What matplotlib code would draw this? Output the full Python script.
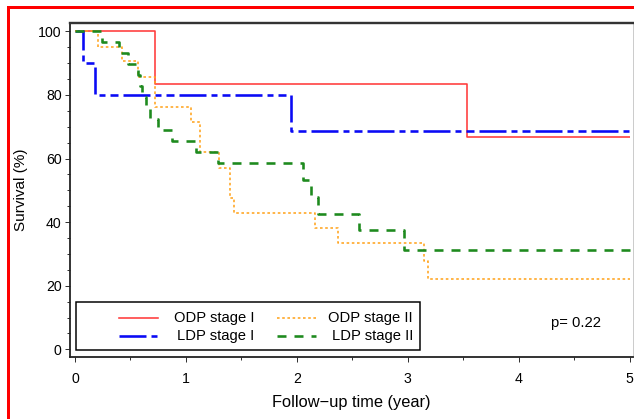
import matplotlib
matplotlib.use("Agg")
import matplotlib.pyplot as plt
from matplotlib.lines import Line2D
from matplotlib.patches import Rectangle
from matplotlib.ticker import MultipleLocator

plt.rcParams['font.family'] = ['Liberation Sans', 'DejaVu Sans']
plt.rcParams['lines.scale_dashes'] = False

# ---- data ----
odp1_t = [0, 0.72, 3.53, 5.0]
odp1_s = [100, 83.3, 66.7, 66.7]

ldp1_t = [0, 0.07, 0.18, 1.945, 5.0]
ldp1_s = [100, 90.0, 80.0, 68.6, 68.6]

odp2_t = [0, 0.21, 0.42, 0.57, 0.72, 1.05, 1.125, 1.30, 1.40, 1.43, 2.16, 2.37, 3.145, 3.18, 5.0]
odp2_s = [100, 95.2, 90.5, 85.7, 76.2, 71.4, 61.9, 57.1, 47.6, 42.9, 38.1, 33.3, 27.8, 22.2, 22.2]

ldp2_t = [0, 0.24, 0.40, 0.48, 0.57, 0.585, 0.60, 0.64, 0.675, 0.745, 0.87, 1.095, 1.29,
          2.055, 2.13, 2.19, 2.56, 2.965, 5.0]
ldp2_s = [100, 96.6, 93.1, 89.7, 86.2, 82.8, 79.3, 75.9, 72.4, 69.0, 65.5, 62.1, 58.6,
          53.3, 48.0, 42.7, 37.4, 31.2, 31.2]

labels = ['ODP stage I', 'LDP stage I', 'ODP stage II', 'LDP stage II']
x_ticks = [0, 1, 2, 3, 4, 5]
y_ticks = [0, 20, 40, 60, 80, 100]
p_text = 'p= 0.22'

# ---- styles ----
W, H = 634, 419
PT = 0.72  # points per pixel at dpi 100
red_c, blue_c, orange_c, green_c = '#FF3B3B', '#0A0AF5', '#FFA520', '#1E8A1E'
styles = [
    dict(color=red_c, lw=1.6 * PT, linestyle='-'),
    dict(color=blue_c, lw=2.6 * PT, linestyle=(0, (27 * PT, 5 * PT, 6 * PT, 5 * PT, 8 * PT, 5 * PT))),
    dict(color=orange_c, lw=1.6 * PT, linestyle=(0, (2.6 * PT, 2.6 * PT))),
    dict(color=green_c, lw=2.6 * PT, linestyle=(0, (9 * PT, 8 * PT))),
]

fig = plt.figure(figsize=(W / 100, H / 100), dpi=100)
fig.patch.set_facecolor('white')

ax_l, ax_r, ax_t, ax_b = 70, 633, 23, 357
ax = fig.add_axes([ax_l / W, 1 - ax_b / H, (ax_r - ax_l) / W, (ax_b - ax_t) / H])

series = [(odp1_t, odp1_s), (ldp1_t, ldp1_s), (odp2_t, odp2_s), (ldp2_t, ldp2_s)]
for (t, s), st in zip(series, styles):
    ax.step(t, s, where='post', solid_capstyle='butt', dash_capstyle='butt', **st)

ax.set_xlim(-0.045, 5.03)
ax.set_ylim(-2.4, 102.6)
ax.set_xticks(x_ticks)
ax.set_yticks(y_ticks)
ax.xaxis.set_minor_locator(MultipleLocator(0.5))
ax.yaxis.set_minor_locator(MultipleLocator(5))
ax.tick_params(which='major', direction='out', length=5 * PT, width=1.0 * PT,
               color='#333333', labelsize=10.2, labelcolor='black')
ax.tick_params(which='minor', direction='out', length=3 * PT, width=1.0 * PT, color='#333333')
ax.tick_params(axis='x', pad=7)
ax.tick_params(axis='y', pad=2.5)
for side in ['left', 'bottom']:
    ax.spines[side].set_linewidth(1.8 * PT)
    ax.spines[side].set_color('#222222')
ax.spines['top'].set_linewidth(2.4 * PT)
ax.spines['top'].set_color('#333333')
ax.spines['right'].set_linewidth(1.0 * PT)
ax.spines['right'].set_color('#cccccc')

ax.set_xlabel('Follow\u2212up time (year)', fontsize=11.8, labelpad=7)
ax.set_ylabel('Survival (%)', fontsize=11.0, labelpad=7)

# ---- legend drawn in pixel coordinates ----
def fx(px):
    return px / W

def fy(py):
    return 1 - py / H

fig.add_artist(Rectangle((fx(75.5), fy(350)), fx(420) - fx(75.5), fy(301.5) - fy(350),
                         transform=fig.transFigure, fill=False, edgecolor='black',
                         linewidth=1.5 * PT, facecolor='none'))
leg_pos = [(119, 158, 254, 318), (119, 158, 254, 336), (277, 316, 413, 318), (277, 316, 413, 336)]
for (x0, x1, xt, y), st, lab in zip(leg_pos, styles, labels):
    fig.add_artist(Line2D([fx(x0), fx(x1)], [fy(y), fy(y)], transform=fig.transFigure,
                          dash_capstyle='butt', **st))
    fig.text(fx(xt), fy(y), lab, ha='right', va='center', fontsize=10.6)

fig.text(fx(551), fy(323), p_text, ha='left', va='center', fontsize=10.6)

# ---- red frame (left and top) ----
fig.add_artist(Line2D([fx(7.5), fx(7.5)], [0, fy(7.5)], transform=fig.transFigure,
                      color='#FF0000', linewidth=3 * PT, solid_capstyle='projecting'))
fig.add_artist(Line2D([fx(7.5), 1], [fy(7.5), fy(7.5)], transform=fig.transFigure,
                      color='#FF0000', linewidth=3 * PT, solid_capstyle='projecting'))

fig.savefig('out.png', dpi=100)
